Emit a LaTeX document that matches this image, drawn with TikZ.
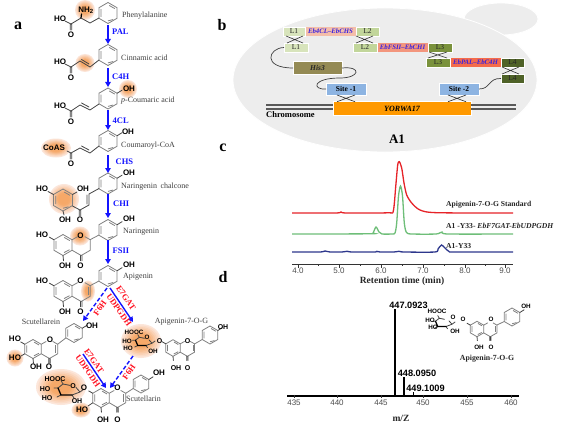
\documentclass[tikz,border=0pt]{standalone}
\usepackage{fontspec}
\setmainfont{Liberation Serif}
\newfontfamily\sanf{Liberation Sans}
\usetikzlibrary{arrows.meta}
\definecolor{ringc}{HTML}{808080}
\definecolor{bondc}{HTML}{444444}
\definecolor{ablue}{HTML}{1414FF}
\definecolor{ared}{HTML}{FF1020}
\definecolor{gene}{HTML}{3A22E0}
\definecolor{glowin}{HTML}{F6A868}
\definecolor{glowout}{HTML}{FCE6DA}
\tikzset{
 ringline/.style={draw=ringc,line width=.8pt,line join=round},
 bondline/.style={draw=bondc,line width=.8pt,line cap=round},
 thickb/.style={draw=black,line width=1.2pt,line cap=round},
 atom/.style={inner sep=0pt,font=\sanf\bfseries\fontsize{8}{8}\selectfont,text=black},
 matom/.style={inner sep=0pt,font=\sanf\bfseries\fontsize{7}{7}\selectfont,text=black},
 satom/.style={inner sep=0pt,font=\sanf\bfseries\fontsize{6.3}{6.3}\selectfont,text=black},
 lab/.style={inner sep=0pt,font=\fontsize{8}{8}\selectfont,text=black!75,anchor=west},
 enz/.style={inner sep=0pt,font=\bfseries\fontsize{8.5}{8.5}\selectfont,text=ablue,anchor=west},
 redl/.style={inner sep=0pt,font=\bfseries\fontsize{8.5}{8.5}\selectfont,text=ared},
 panel/.style={inner sep=0pt,font=\bfseries\fontsize{16}{16}\selectfont,text=black},
 step arrow/.style={-{Triangle[length=5pt,width=5.5pt]},draw=ablue,line width=1.4pt},
 dash arrow/.style={-{Triangle[length=5pt,width=5.5pt]},draw=ablue,line width=1.4pt,dash pattern=on 4pt off 2.2pt},
 boxb/.style={draw=white,line width=.5pt,inner sep=0pt,outer sep=0pt,minimum height=9pt,font=\fontsize{7.5}{7.5}\selectfont,text=black!85},
 gene box/.style={inner sep=0pt,outer sep=0pt,minimum height=9pt,font=\bfseries\itshape\fontsize{6.8}{6.8}\selectfont,text=gene},
 siteb/.style={draw=white,line width=.5pt,fill=sitec,inner sep=0pt,outer sep=0pt,minimum width=40pt,minimum height=12pt,font=\bfseries\fontsize{7.5}{7.5}\selectfont},
 crossl/.style={draw=black!80,line width=.6pt},
 curvel/.style={draw=black!75,line width=.7pt},
 chrom/.style={draw=black!65,line width=1.3pt},
 trace/.style={line width=1.3pt,smooth,tension=.45},
 clab/.style={inner sep=0pt,anchor=west,font=\bfseries\fontsize{7.6}{7.6}\selectfont,text=black!85},
 axl/.style={inner sep=0pt,font=\sanf\fontsize{8}{8}\selectfont,text=black!70},
 msl/.style={inner sep=0pt,font=\sanf\bfseries\fontsize{9.2}{9.2}\selectfont,text=black},
 axtitle/.style={inner sep=0pt,font=\bfseries\fontsize{9.5}{9.5}\selectfont,text=black!85},
}
\definecolor{sitec}{HTML}{8DB4E2}
\newcounter{atomc}
\newcommand\atom[3]{\stepcounter{atomc}\node[atom] (at\theatomc) at (#1,#2) {#3};}
\newcommand\matomn[3]{\stepcounter{atomc}\node[matom] (at\theatomc) at (#1,#2) {#3};}
\newcommand\satom[3]{\stepcounter{atomc}\node[satom] (at\theatomc) at (#1,#2) {#3};}
\newcommand\glowc[4]{\fill[white] (#1,#2) ellipse [x radius=#3,y radius=#4];
 \foreach \k in {0,1,...,9}{\pgfmathsetmacro\ff{1-\k/11}\pgfmathsetmacro\pp{min(100,\k*16)}
 \fill[glowin!\pp!glowout] (#1,#2) ellipse [x radius=\ff*#3,y radius=\ff*#4];}}
\newcommand\hexa[3]{\begin{scope}[shift={(#1,#2)},x=#3pt,y=-#3pt]
 \draw[ringline](0,-1)--(.866,-.5)--(.866,.5)--(0,1)--(-.866,.5)--(-.866,-.5)--cycle;
 \draw[ringline](.12,-.72)--(.64,-.42) (.5,.62)--(-.0,.75) (-.66,.38)--(-.66,-.38);
 \end{scope}}
\newcommand\bring[3]{\hexa{#1}{#2}{#3}\begin{scope}[shift={(#1,#2)},x=#3pt,y=-#3pt]\draw[bondline](.866,-.5)--(1.35,-.8);\end{scope}}
% A and C ring of a flavonoid; #4 = 1 gives the C=C of a flavone
\newcommand\flav[4]{\begin{scope}[shift={(#1,#2)},x=#3pt,y=-#3pt]
 \draw[ringline](0,-1)--(.866,-.5)--(.866,.5)--(0,1)--(-.866,.5)--(-.866,-.5)--cycle;
 \draw[ringline](.12,-.72)--(.64,-.42) (.62,.45)--(.1,.72) (-.66,.38)--(-.66,-.38);
 \draw[ringline](.866,-.5)--(1.4,-.8) (2.07,-.8)--(2.598,-.5)--(2.598,.5)--(1.732,1)--(.866,.5);
 \ifnum#4=1 \draw[ringline](2.4,-.38)--(2.4,.38);\fi
 \draw[bondline](1.66,1)--(1.66,1.5) (1.8,1)--(1.8,1.5) (0,1)--(.05,1.5) (-.866,-.5)--(-1.3,-.75);
 \end{scope}}
\newcommand\sugar[3]{\begin{scope}[shift={(#1,#2)},x=#3pt,y=-#3pt]
 \draw[bondline](2,-3.6)--(-5,-5)--(-10,-1) (8,-1.5)--(12,3)--(4,6) (-5,-5)--(-7,-8.5) (-10,-1)--(-14,-1) (-7,6)--(-11,8) (4,6)--(6,9) (12,3)--(16,0);
 \draw[thickb](-10,-1)--(-7,6)--(4,6);
 \end{scope}}
\newcommand\acid[2]{\draw[bondline](#1,#2)--++(-6,-3) (#1-.8,#2)--++(0,6) (#1+.8,#2)--++(0,6);\atom{#1-11}{#2-5}{HO}\atom{#1}{#2+10.5}{O}}
\begin{document}
\begin{tikzpicture}[x=1pt,y=-1pt]
\useasboundingbox (0,0) rectangle (580,433);
\fill[white] (0,0) rectangle (580,433);
% ---------- panel letters
\node[panel] (pa) at (18,26) {a};
\node[panel] (pb) at (222,25) {b};
\node[panel] (pc) at (223,148) {c};
\node[panel] (pd) at (223,277) {d};
% ---------- glows
\glowc{85}{10}{10}{10}
\glowc{85}{63}{9.5}{9}
\glowc{128}{89}{9}{9}
\glowc{56}{148}{15}{9.5}
\glowc{64}{199}{15}{15}
\glowc{80}{236}{10}{9.5}
\glowc{88}{291}{7}{10.5}
\glowc{15}{358}{8.5}{8.5}
\glowc{141}{341}{20}{17}
\glowc{61}{387}{25}{18}
\glowc{81}{410}{9.5}{7.5}
% ---------- phenylalanine
\hexa{108}{13}{10.5}
\draw[bondline](99,18)--(90,23)--(81,18)--(71,24);
\draw[thickb](81,18)--(81.5,14);
\acid{71}{24}
\atom{86}{10}{NH\textsubscript{2}}
\node[lab] (n1) at (122,16) {Phenylalanine};
% ---------- cinnamic
\hexa{108}{55}{10.5}
\draw[bondline](99,60)--(90,67)--(80,61)--(71,67) (89,64)--(81.5,59.5);
\acid{71}{67}
\node[lab] (n2) at (121,58) {Cinnamic acid};
% ---------- p-coumaric
\bring{108}{98.5}{10.5}
\draw[bondline](99,104)--(90,110)--(80,105)--(71,111) (89,107)--(81.5,103);
\acid{71}{111}
\atom{129}{89}{OH}
\node[lab] (n3) at (121,100.5) {\textit{p}-Coumaric acid};
% ---------- coumaroyl-CoA
\bring{108}{141}{10.5}
\draw[bondline](99,146)--(90,153)--(80,148)--(71,153) (89,150)--(81.5,146) (70.2,153)--++(0,6) (71.8,153)--++(0,6) (71,153)--(67,151);
\atom{54}{148}{CoAS}
\atom{71}{163.5}{O}
\atom{128}{132}{OH}
\node[lab] (n4) at (121,145.5) {Coumaroyl-CoA};
% ---------- chalcone
\bring{108}{183.5}{10.5}
\hexa{63}{200}{11}
\draw[bondline](99,188.5)--(89,194)--(89,205)--(80,210)--(72.5,206) (87,195)--(87,204) (79.2,210)--++(0,6) (80.8,210)--++(0,6) (53.5,194.5)--(48,191.5) (72.5,194.5)--(77,192) (63,211)--(64,215);
\atom{129}{173}{OH}
\atom{42}{188.5}{HO}
\atom{83}{188.5}{OH}
\atom{65}{219.5}{OH}
\atom{80}{220}{O}
\node[lab] (n5) at (121,186.5) {Naringenin\, chalcone};
% ---------- naringenin
\bring{108}{230}{10.5}
\flav{63}{245}{10.5}{0}
\draw[ringline](90.1,239.7)--(99,235);
\atom{129}{219}{OH}
\atom{42}{235}{HO}
\atom{80.5}{235.5}{O}
\atom{65}{266}{OH}
\atom{80.5}{266}{O}
\node[lab] (n6) at (123,231.5) {Naringenin};
% ---------- apigenin
\bring{108}{276}{10.5}
\flav{63}{291}{10.5}{1}
\draw[ringline](90.1,285.7)--(99,281);
\atom{129}{265}{OH}
\atom{42}{281}{HO}
\atom{80.5}{281}{O}
\atom{65}{312}{OH}
\atom{80.5}{312}{O}
\node[lab] (n7) at (123,277) {Apigenin};
% ---------- scutellarein
\bring{74}{333}{9.5}
\flav{33}{349}{9.5}{1}
\draw[ringline](57.7,344.2)--(65.8,338);
\draw[bondline](24.8,353.8)--(21,356);
\atom{92}{326}{OH}
\atom{15}{339}{HO}
\atom{50}{340}{O}
\atom{15}{358}{HO}
\atom{36}{367}{OH}
\atom{49}{367}{O}
\node[lab,anchor=center] (n8) at (41,321.5) {Scutellarein};
% ---------- apigenin-7-O-G (pathway)
\bring{210}{335}{9}
\flav{173}{348}{8.3}{1}
\draw[ringline](194.6,343.9)--(202.2,339.5);
\sugar{143}{341}{.75}
\matomn{223}{327}{OH}
\matomn{187.5}{341}{O}
\matomn{159.5}{341}{O}
\matomn{176}{368}{OH}
\matomn{187.5}{368}{O}
\satom{134}{332}{HOOC}
\satom{147}{337}{O}
\satom{127}{341}{HO}
\satom{128}{348}{HO}
\satom{153}{351}{OH}
\node[lab,anchor=center] (n9) at (181.5,321.5) {Apigenin-7-O-G};
% ---------- scutellarin
\bring{141}{384}{9}
\flav{101}{398}{9.5}{1}
\draw[ringline](125.7,393.3)--(133.2,388.5);
\sugar{68}{389}{1}
\draw[bondline](92.8,402.8)--(88,406);
\atom{159}{373}{OH}
\atom{117.5}{388}{O}
\atom{84}{388}{O}
\atom{103}{420}{OH}
\atom{117.5}{420}{O}
\atom{82}{410}{HO}
\matomn{55}{379}{HOOC}
\matomn{73}{386}{O}
\matomn{45}{389}{HO}
\matomn{47}{398}{HO}
\matomn{77}{401}{OH}
\node[lab] (n10) at (126,398.5) {Scutellarin};
% ---------- pathway arrows
\coordinate (a1) at (108,25); \coordinate (a2) at (108,44);
\coordinate (b1) at (108,68); \coordinate (b2) at (108,87);
\coordinate (c1) at (108,110); \coordinate (c2) at (108,130);
\coordinate (d1) at (108,155); \coordinate (d2) at (108,173);
\coordinate (e1) at (108,194); \coordinate (e2) at (108,218);
\coordinate (f1) at (108,240); \coordinate (f2) at (108,264);
\draw[step arrow](a1)--(a2); \draw[step arrow](b1)--(b2); \draw[step arrow](c1)--(c2);
\draw[step arrow](d1)--(d2); \draw[step arrow](e1)--(e2); \draw[step arrow](f1)--(f2);
\node[enz] (e1l) at (112,32) {PAL};
\node[enz] (e2l) at (112,77) {C4H};
\node[enz] (e3l) at (112.5,121) {4CL};
\node[enz] (e4l) at (115.5,162) {CHS};
\node[enz] (e5l) at (113,204) {CHI};
\node[enz] (e6l) at (112.5,251) {FSII};
\coordinate (g1) at (107,288); \coordinate (g2) at (83,321);
\coordinate (h1) at (110,288); \coordinate (h2) at (133,322);
\coordinate (i1) at (83,354); \coordinate (i2) at (106,388);
\coordinate (j1) at (133,356); \coordinate (j2) at (110,388);
\draw[dash arrow](g1)--(g2); \draw[dash arrow](j1)--(j2);
\draw[step arrow](h1)--(h2); \draw[step arrow](i1)--(i2);
\node[redl,rotate=55] (r1) at (100,308) {F6H};
\node[redl,rotate=-55] (r2) at (126,298) {E7GAT};
\node[redl,rotate=-55] (r3) at (119,310) {UDPGDH};
\node[redl,rotate=-55] (r4) at (94,361) {E7GAT};
\node[redl,rotate=-55] (r5) at (88,371) {UDPGDH};
\node[redl,rotate=55] (r6) at (129,372) {F6H};
% ---------- panel b
\fill[black!7,draw=white,line width=.8pt] (501,19) ellipse [x radius=37,y radius=16];
\fill[black!7,draw=white,line width=.8pt] (385,80) ellipse [x radius=152,y radius=72];
\node[gene box,fill={rgb,255:red,244;green,190;blue,170},minimum width=51pt] (g1box) at (330.5,31.5) {Eb4CL--EbCHS};
\node[gene box,fill={rgb,255:red,243;green,150;blue,125},minimum width=51pt] (g2box) at (402.5,47.5) {EbFSII--EbCHI};
\node[gene box,fill={rgb,255:red,245;green,107;blue,75},minimum width=51pt] (g3box) at (475.5,62.5) {EbPAL--EbC4H};
\node[boxb,fill={rgb,255:red,216;green,228;blue,188},minimum width=22pt] (L1t) at (294,31.5) {L1};
\node[boxb,fill={rgb,255:red,216;green,228;blue,188},minimum width=24pt] (L1b) at (296,47.5) {L1};
\node[boxb,fill={rgb,255:red,194;green,214;blue,155},minimum width=23pt] (L2t) at (367.5,31.5) {L2};
\node[boxb,fill={rgb,255:red,194;green,214;blue,155},minimum width=24pt] (L2b) at (365,47.5) {L2};
\node[boxb,fill={rgb,255:red,122;green,146;blue,60},minimum width=24pt] (L3t) at (440,47.5) {L3};
\node[boxb,fill={rgb,255:red,122;green,146;blue,60},minimum width=24pt] (L3b) at (438,62.5) {L3};
\node[boxb,fill={rgb,255:red,79;green,98;blue,40},minimum width=23pt] (L4t) at (512.5,62.5) {L4};
\node[boxb,fill={rgb,255:red,79;green,98;blue,40},minimum width=23pt] (L4b) at (512.5,78.5) {L4};
\node[boxb,fill={rgb,255:red,148;green,138;blue,84},minimum width=49pt,minimum height=12.5pt,font=\bfseries\itshape\fontsize{7.5}{7.5}\selectfont] (his) at (317.5,68) {His3};
\node[siteb] (s1) at (346,89) {Site -1};
\node[siteb] (s2) at (459,89) {Site -2};
\node[draw=white,line width=.5pt,fill={rgb,255:red,255;green,153;blue,0},inner sep=0pt,outer sep=0pt,minimum width=138pt,minimum height=13.5pt,font=\bfseries\itshape\fontsize{8}{8}\selectfont] (bar) at (402,108.5) {YORWA17};
\draw[crossl] ([xshift=3pt]L1t.south west)--([xshift=-5pt]L1b.north east) ([xshift=3pt]L1b.north west)--([xshift=-2pt]L1t.south east);
\draw[crossl] ([xshift=0pt]L2t.south west)--([xshift=-4pt]L2b.north east) ([xshift=3pt]L2b.north west)--([xshift=-6pt]L2t.south east);
\draw[crossl] ([xshift=1pt]L3t.south west)--([xshift=-3pt]L3b.north east) ([xshift=2pt]L3b.north west)--([xshift=-5pt]L3t.south east);
\draw[crossl] ([xshift=1pt]L4t.south west)--([xshift=-5pt]L4b.north east) ([xshift=1pt]L4b.north west)--([xshift=-5pt]L4t.south east);
\draw[crossl] ([xshift=11pt]s1.south west)--([xshift=-11pt]s1.south east |- bar.north) ([xshift=11pt]s1.south west |- bar.north)--([xshift=-11pt]s1.south east);
\draw[crossl] ([xshift=9pt]s2.south west)--([xshift=-13pt]s2.south east |- bar.north) ([xshift=9pt]s2.south west |- bar.north)--([xshift=-13pt]s2.south east);
\draw[curvel] (L1b.west) .. controls (268,48) and (262,68) .. (his.west);
\draw[curvel] (his.east) .. controls (362,66) and (360,78) .. (340,78) .. controls (312,78) and (312,90) .. (s1.west);
\draw[curvel] (s2.east) .. controls (491,89) and (488,78) .. (L4b.west);
\coordinate (ch1) at (266,105); \coordinate (ch2) at (266,109);
\coordinate (ch3) at (516,105); \coordinate (ch4) at (516,109);
\draw[chrom] (ch1)--(bar.west |- ch1) (ch2)--(bar.west |- ch2) (bar.east |- ch3)--(ch3) (bar.east |- ch4)--(ch4);
\node[inner sep=0pt,anchor=west,font=\bfseries\fontsize{8.5}{8.5}\selectfont] (chl) at (266,114.5) {Chromosome};
\node[inner sep=0pt,font=\bfseries\fontsize{13}{13}\selectfont] (a1l) at (397,139.5) {A1};
% ---------- panel c
\coordinate (x0) at (292,264); \coordinate (x1) at (513,264);
\draw[black!80,line width=.9pt] (x0)--(x1);
\foreach \t in {298,339,381,423,465,505}{\draw[black!80,line width=.8pt](\t,264)--(\t,267.5);}
\foreach \t in {318.5,360,402,444,485}{\draw[black!80,line width=.8pt](\t,264)--(\t,266);}
\draw[trace,draw={rgb,255:red,230;green,35;blue,40}] plot[smooth] coordinates {(292,213)(336,213)(341,212)(346,213)(388,212.8)(393.3,211)(395.7,186.7)(397.7,165)(399.3,161.7)(401.7,168)(404,183)(406.7,195)(411.7,203)(420,210)(436.7,212.7)(513,213)};
\draw[trace,draw={rgb,255:red,110;green,190;blue,120}] plot[smooth] coordinates {(292,234)(370,233.8)(373,233)(376,227)(379,232)(382,234)(392,234)(395,233)(396.7,223)(398.5,196)(400.5,186)(402.5,196)(404.3,223)(406.5,232.5)(412,234)(436,234)(442,232)(448,234)(513,234)};
\draw[trace,draw={rgb,255:red,45;green,55;blue,140}] plot[smooth] coordinates {(292,252)(320,252)(325,251)(330,252)(342,252)(347,251.3)(352,252)(375,252)(377,251.4)(380,252)(394,252)(399,251.3)(404,252)(435,252)(438,249)(441.5,245)(445,248)(449,251.5)(455,252)(513,252)};
\node[clab] (c1l) at (446,205) {Apigenin-7-O-G Standard};
\node[clab] (c2l) at (446,225.5) {A1 -Y33- \textit{EbF7GAT-EbUDPGDH}};
\node[clab] (c3l) at (446,246) {A1-Y33};
\node[axl] (t1) at (298,271) {4.0};
\node[axl] (t2) at (339,271) {5.0};
\node[axl] (t3) at (381,271) {6.0};
\node[axl] (t4) at (423,271) {7.0};
\node[axl] (t5) at (465,271) {8.0};
\node[axl] (t6) at (505,271) {9.0};
\node[axtitle] (ct) at (402,281) {Retention time (min)};
% ---------- panel d
\coordinate (m0) at (287,396); \coordinate (m1) at (519,396);
\draw[black,line width=1.4pt] (m0)--(m1);
\foreach \t in {294,337,381,423,467,511}{\draw[black!80,line width=.6pt](\t,394.5)--(\t,398);}
\coordinate (p1) at (395,309); \coordinate (p2) at (404,377); \coordinate (p3) at (413,392);
\draw[black,line width=1.3pt] (p1)--(p1 |- m0);
\draw[black,line width=1.1pt] (p2)--(p2 |- m0);
\draw[black,line width=.8pt] (p3)--(p3 |- m0);
\node[msl] (m1l) at (408.5,305) {447.0923};
\node[msl] (m2l) at (417,373.5) {448.0950};
\node[msl] (m3l) at (425.5,388) {449.1009};
\node[axl] (u1) at (294,403) {435};
\node[axl] (u2) at (337,403) {440};
\node[axl] (u3) at (381,403) {445};
\node[axl] (u4) at (423,403) {450};
\node[axl] (u5) at (467,403) {455};
\node[axl] (u6) at (511,403) {460};
\node[axtitle] (mt) at (401,418) {m/Z};
\bring{512}{317}{9}
\flav{477}{329}{7.7}{1}
\draw[ringline](497,325)--(504.2,321.5);
\sugar{443}{322}{.75}
\satom{526}{306}{OH}
\satom{491}{319.5}{O}
\satom{463}{319}{O}
\satom{479}{347}{OH}
\satom{491}{347}{O}
\satom{437}{311}{HOOC}
\satom{453}{317}{O}
\satom{430}{320}{HO}
\satom{433}{327}{HO}
\satom{455}{331}{OH}
\node[inner sep=0pt,font=\bfseries\fontsize{7.8}{7.8}\selectfont,text=black!85] (dl) at (487,358.5) {Apigenin-7-O-G};
\end{tikzpicture}
\end{document}
